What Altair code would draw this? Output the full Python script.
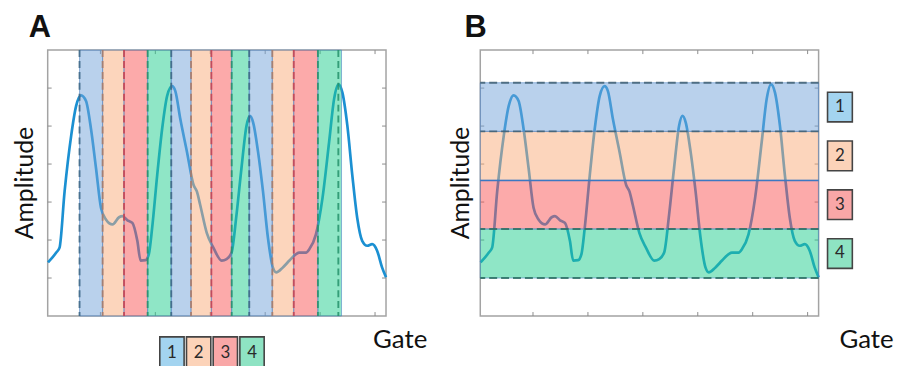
import altair as alt
import pandas as pd

# ---------------- data ----------------
GATE = [2.3, 9.8, 12.8, 17.4, 23.4, 27.9, 32.4, 36.9, 41.4, 46.0, 50.5, 55.0, 61.0, 67.0,
        70.0, 74.6, 79.1, 83.6, 86.6, 91.1, 94.1, 97.1, 101.7, 106.2, 110.7, 115.2, 118.2,
        122.7, 128.8, 134.8, 137.8, 140.8, 146.8, 152.8, 160.4, 164.9, 169.4, 173.9, 178.4,
        183.0, 186.0, 189.0, 193.5, 198.0, 202.5, 207.0, 210.0, 216.1, 222.1, 228.1, 231.1,
        237.2, 240.2, 246.2, 252.2, 258.2, 262.7, 266.7, 270.3, 274.8, 279.3, 283.8, 288.3,
        292.9, 297.4, 301.9, 306.4, 310.0]
AMP = [1.41, 1.67, 1.80, 3.28, 4.75, 5.53, 5.81, 5.66, 4.93, 3.89, 2.85, 2.54, 2.41, 2.60,
       2.63, 2.52, 2.45, 1.98, 1.46, 1.47, 1.63, 2.32, 3.71, 4.93, 5.79, 6.05, 5.92,
       5.19, 4.32, 3.45, 3.28, 2.93, 2.19, 1.80, 1.46, 1.50, 1.67, 2.67, 3.89,
       5.01, 5.27, 5.10, 4.32, 3.28, 2.06, 1.28, 1.15, 1.28, 1.46, 1.63, 1.67,
       1.67, 1.76, 2.15, 3.11, 4.58, 5.71, 6.10, 5.88, 5.01, 3.71, 2.58, 1.98,
       1.85, 1.89, 1.72, 1.28, 1.02]

CATS = ["1", "2", "3", "4"]

# Panel A: gate windows
A_START = [31, 52, 71.5, 93, 114.5, 132.5, 151, 169.5, 185.5, 206.5, 226, 248]
A_END = [52, 71.5, 93, 114.5, 132.5, 151, 169.5, 185.5, 206.5, 226, 248, 269.5]
A_CAT = ["1", "2", "3", "4", "1", "2", "3", "4", "1", "2", "3", "4"]
A_DASH_X = A_START + [266.6]
A_DASH_CAT = A_CAT + ["4"]

# Panel B: amplitude levels
B_LOW = [4.86, 3.57, 2.29, 1.0]
B_HIGH = [6.14, 4.86, 3.57, 2.29]
B_CAT = ["1", "2", "3", "4"]
B_EDGE = [6.14, 4.86, 3.57, 2.29, 1.0]
B_EDGE_STYLE = ["d1", "d1", "solid", "d4", "d4"]

X_TICKS = [50, 100, 150, 200, 250, 300]
Y_TICKS = [1, 2, 3, 4, 5, 6]

# ---------------- styling ----------------
W, H = 341, 268
XS = alt.Scale(domain=[2, 310], nice=False, zero=False)
YS = alt.Scale(domain=[0, 7], nice=False, zero=False)
LINE = "#1b90d2"
BAND_FILL = ["#73a3d9", "#f9ab79", "#f95555", "#1fcd8d"]
DASH_COL = ["#3c6683", "#a97a66", "#c9404d", "#24906a"]
LEG_FILL = ["#a3d4f0", "#fcd3b9", "#f9a7a7", "#8ee3c3"]
FONT = "Lato"

sig = pd.DataFrame({"gate": GATE, "amp": AMP})
one = pd.DataFrame({"k": [0]})


def signal():
    return alt.Chart(sig).mark_line(color=LINE, strokeWidth=2.7, interpolate="monotone").encode(
        x=alt.X("gate:Q", scale=XS, axis=None),
        y=alt.Y("amp:Q", scale=YS, axis=None),
    )


def ticks():
    xt = pd.DataFrame({"v": X_TICKS})
    yt = pd.DataFrame({"v": Y_TICKS})
    st = dict(color="#8c8c8c", strokeWidth=1)
    return [
        alt.Chart(yt).mark_rule(**st).encode(y=alt.Y("v:Q", scale=YS, axis=None), x=alt.value(0), x2=alt.value(4)),
        alt.Chart(yt).mark_rule(**st).encode(y=alt.Y("v:Q", scale=YS, axis=None), x=alt.value(W - 4), x2=alt.value(W)),
        alt.Chart(xt).mark_rule(**st).encode(x=alt.X("v:Q", scale=XS, axis=None), y=alt.value(0), y2=alt.value(4)),
        alt.Chart(xt).mark_rule(**st).encode(x=alt.X("v:Q", scale=XS, axis=None), y=alt.value(H - 4), y2=alt.value(H)),
    ]


def texts(letter, letter_x, amp_x, gate_x):
    return [
        alt.Chart(one).mark_rect(opacity=0).encode(
            x=alt.value(-39), x2=alt.value(-38), y=alt.value(-40), y2=alt.value(-39)),
        alt.Chart(one).mark_text(text=letter, font="Liberation Sans", fontWeight="bold", fontSize=31,
                                 align="left", baseline="alphabetic", color="#111").encode(
            x=alt.value(letter_x), y=alt.value(-13)),
        alt.Chart(one).mark_text(text="Amplitude", font=FONT, fontSize=25, angle=270,
                                 align="center", baseline="middle", color="#111").encode(
            x=alt.value(amp_x), y=alt.value(H / 2)),
        alt.Chart(one).mark_text(text="Gate", font=FONT, fontSize=26,
                                 align="left", baseline="alphabetic", color="#111").encode(
            x=alt.value(gate_x), y=alt.value(300)),
    ]


# ---------------- panel A ----------------
a_bands = pd.DataFrame({"s": A_START, "e": A_END, "cat": A_CAT})
a_dash = pd.DataFrame({"x": A_DASH_X, "cat": A_DASH_CAT})

a_rect = alt.Chart(a_bands).mark_rect(fillOpacity=0.5, stroke="#4f86c6", strokeWidth=1, strokeOpacity=0.6).encode(
    x=alt.X("s:Q", scale=XS, axis=None), x2="e:Q",
    color=alt.Color("cat:N", scale=alt.Scale(domain=CATS, range=BAND_FILL), legend=None),
)
a_dashes = alt.Chart(a_dash).mark_rule(strokeDash=[7, 4], strokeWidth=1.9, opacity=0.85).encode(
    x=alt.X("x:Q", scale=XS, axis=None),
    color=alt.Color("cat:N", scale=alt.Scale(domain=CATS, range=DASH_COL), legend=None),
)

LEG_A_X0, LEG_A_STEP, LEG_A_W, LEG_A_Y, LEG_A_H = 113, 26.9, 24.5, 289, 32
leg = pd.DataFrame({"cat": CATS})
a_leg_box = alt.Chart(leg).transform_calculate(
    x0=f"{LEG_A_X0} + (toNumber(datum.cat) - 1) * {LEG_A_STEP}",
    x1=f"{LEG_A_X0} + (toNumber(datum.cat) - 1) * {LEG_A_STEP} + {LEG_A_W}",
).mark_rect(stroke="#444", strokeWidth=1.6).encode(
    x=alt.X("x0:Q", scale=None), x2="x1:Q",
    y=alt.value(LEG_A_Y), y2=alt.value(LEG_A_Y + LEG_A_H),
    color=alt.Color("cat:N", scale=alt.Scale(domain=CATS, range=LEG_FILL), legend=None),
)
a_leg_txt = alt.Chart(leg).transform_calculate(
    xc=f"{LEG_A_X0} + (toNumber(datum.cat) - 1) * {LEG_A_STEP} + {LEG_A_W / 2}",
).mark_text(font=FONT, fontSize=17, color="#2a2a2a", baseline="middle").encode(
    x=alt.X("xc:Q", scale=None), y=alt.value(305), text="cat:N",
)

panel_a = alt.layer(
    *ticks(), signal(), a_rect, a_dashes, a_leg_box, a_leg_txt,
    *texts("A", -19, -23, 328),
).resolve_scale(color="independent").properties(width=W, height=H)

# ---------------- panel B ----------------
b_bands = pd.DataFrame({"lo": B_LOW, "hi": B_HIGH, "cat": B_CAT})
b_edges = pd.DataFrame({"y": B_EDGE, "style": B_EDGE_STYLE})

b_rect = alt.Chart(b_bands).mark_rect(fillOpacity=0.5, stroke="#4f86c6", strokeWidth=1, strokeOpacity=0.6).encode(
    y=alt.Y("lo:Q", scale=YS, axis=None), y2="hi:Q",
    color=alt.Color("cat:N", scale=alt.Scale(domain=CATS, range=BAND_FILL), legend=None),
)
b_dashes = alt.Chart(b_edges).transform_filter("datum.style != 'solid'").mark_rule(
    strokeDash=[8, 4], strokeWidth=1.9, opacity=0.85).encode(
    y=alt.Y("y:Q", scale=YS, axis=None),
    color=alt.Color("style:N", scale=alt.Scale(domain=["d1", "d4"], range=["#3f5f72", "#2b6e62"]), legend=None),
)
b_solid = alt.Chart(b_edges).transform_filter("datum.style == 'solid'").mark_rule(
    strokeWidth=1.5, color="#3c78c2").encode(y=alt.Y("y:Q", scale=YS, axis=None))

LEG_B_X, LEG_B_W, LEG_B_HALF = 350, 25, 0.39
b_leg_box = alt.Chart(b_bands).transform_calculate(
    m="(datum.lo + datum.hi) / 2",
    m0=f"(datum.lo + datum.hi) / 2 - {LEG_B_HALF}",
    m1=f"(datum.lo + datum.hi) / 2 + {LEG_B_HALF}",
).mark_rect(stroke="#444", strokeWidth=1.6).encode(
    x=alt.value(LEG_B_X), x2=alt.value(LEG_B_X + LEG_B_W),
    y=alt.Y("m0:Q", scale=YS, axis=None), y2="m1:Q",
    color=alt.Color("cat:N", scale=alt.Scale(domain=CATS, range=LEG_FILL), legend=None),
)
b_leg_txt = alt.Chart(b_bands).transform_calculate(
    m="(datum.lo + datum.hi) / 2",
).mark_text(font=FONT, fontSize=17, color="#2a2a2a", baseline="middle").encode(
    x=alt.value(LEG_B_X + LEG_B_W / 2), y=alt.Y("m:Q", scale=YS, axis=None), text="cat:N",
)

panel_b = alt.layer(
    *ticks(), signal(), b_rect, b_dashes, b_solid, b_leg_box, b_leg_txt,
    *texts("B", -16, -19, 362),
).resolve_scale(color="independent").properties(width=W, height=H)

chart = alt.hconcat(panel_a, panel_b, spacing=95, bounds="flush").properties(
    padding=0, background="white"
).configure_view(stroke="#a3a3a3", strokeWidth=1.5)

chart.save("out.html", embed_options={"renderer": "svg", "actions": False})
